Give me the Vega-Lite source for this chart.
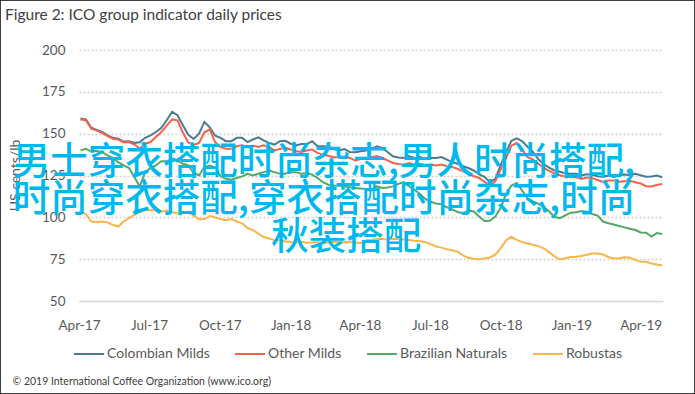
{
  "$schema": "https://vega.github.io/schema/vega-lite/v6.json",
  "width": 695,
  "height": 394,
  "autosize": {"type": "none"},
  "padding": 0,
  "background": "white",
  "config": {"view": {"stroke": "#000000", "strokeWidth": 1.5}, "font": "Lato"},
  "title": {"text": "Figure 2: ICO group indicator daily prices", "anchor": "start", "frame": "group", "offset": -23, "dx": 5, "fontSize": 15.5, "fontWeight": "normal", "color": "#404040", "font": "Lato"},
  "layer": [
    {
      "data": {"values": [
{"d":"2017-04-03","s":"Colombian Milds","v":159},{"d":"2017-04-10","s":"Colombian Milds","v":158.5},{"d":"2017-04-17","s":"Colombian Milds","v":153.5},{"d":"2017-04-24","s":"Colombian Milds","v":152.3},{"d":"2017-05-01","s":"Colombian Milds","v":151},{"d":"2017-05-08","s":"Colombian Milds","v":149},{"d":"2017-05-15","s":"Colombian Milds","v":147.5},{"d":"2017-05-22","s":"Colombian Milds","v":147},{"d":"2017-05-29","s":"Colombian Milds","v":145.3},{"d":"2017-06-05","s":"Colombian Milds","v":145.5},{"d":"2017-06-12","s":"Colombian Milds","v":144.5},{"d":"2017-06-19","s":"Colombian Milds","v":144.8},{"d":"2017-06-26","s":"Colombian Milds","v":147.5},{"d":"2017-07-03","s":"Colombian Milds","v":149},{"d":"2017-07-10","s":"Colombian Milds","v":151},{"d":"2017-07-17","s":"Colombian Milds","v":153.5},{"d":"2017-07-24","s":"Colombian Milds","v":158},{"d":"2017-07-31","s":"Colombian Milds","v":163},{"d":"2017-08-07","s":"Colombian Milds","v":161},{"d":"2017-08-14","s":"Colombian Milds","v":155},{"d":"2017-08-21","s":"Colombian Milds","v":149.3},{"d":"2017-08-28","s":"Colombian Milds","v":146.8},{"d":"2017-09-04","s":"Colombian Milds","v":150},{"d":"2017-09-11","s":"Colombian Milds","v":157},{"d":"2017-09-18","s":"Colombian Milds","v":153.8},{"d":"2017-09-25","s":"Colombian Milds","v":148.8},{"d":"2017-10-02","s":"Colombian Milds","v":147.5},{"d":"2017-10-09","s":"Colombian Milds","v":145.5},{"d":"2017-10-16","s":"Colombian Milds","v":145.5},{"d":"2017-10-23","s":"Colombian Milds","v":147.5},{"d":"2017-10-30","s":"Colombian Milds","v":147.5},{"d":"2017-11-06","s":"Colombian Milds","v":145},{"d":"2017-11-13","s":"Colombian Milds","v":146.5},{"d":"2017-11-20","s":"Colombian Milds","v":147.8},{"d":"2017-11-27","s":"Colombian Milds","v":146},{"d":"2017-12-04","s":"Colombian Milds","v":144.5},{"d":"2017-12-11","s":"Colombian Milds","v":143.5},{"d":"2017-12-18","s":"Colombian Milds","v":145.5},{"d":"2017-12-25","s":"Colombian Milds","v":145.7},{"d":"2018-01-01","s":"Colombian Milds","v":144},{"d":"2018-01-08","s":"Colombian Milds","v":143},{"d":"2018-01-15","s":"Colombian Milds","v":143.8},{"d":"2018-01-22","s":"Colombian Milds","v":143.8},{"d":"2018-01-29","s":"Colombian Milds","v":145.5},{"d":"2018-02-05","s":"Colombian Milds","v":142.5},{"d":"2018-02-12","s":"Colombian Milds","v":142.5},{"d":"2018-02-19","s":"Colombian Milds","v":142.3},{"d":"2018-02-26","s":"Colombian Milds","v":140.8},{"d":"2018-03-05","s":"Colombian Milds","v":140},{"d":"2018-03-12","s":"Colombian Milds","v":140.8},{"d":"2018-03-19","s":"Colombian Milds","v":139},{"d":"2018-03-26","s":"Colombian Milds","v":138.9},{"d":"2018-04-02","s":"Colombian Milds","v":139.5},{"d":"2018-04-09","s":"Colombian Milds","v":140},{"d":"2018-04-16","s":"Colombian Milds","v":140.9},{"d":"2018-04-23","s":"Colombian Milds","v":142.5},{"d":"2018-04-30","s":"Colombian Milds","v":141.5},{"d":"2018-05-07","s":"Colombian Milds","v":139},{"d":"2018-05-14","s":"Colombian Milds","v":136.5},{"d":"2018-05-21","s":"Colombian Milds","v":135.8},{"d":"2018-05-28","s":"Colombian Milds","v":135.5},{"d":"2018-06-04","s":"Colombian Milds","v":136.5},{"d":"2018-06-11","s":"Colombian Milds","v":135.5},{"d":"2018-06-18","s":"Colombian Milds","v":136},{"d":"2018-06-25","s":"Colombian Milds","v":135},{"d":"2018-07-02","s":"Colombian Milds","v":135.5},{"d":"2018-07-09","s":"Colombian Milds","v":135.5},{"d":"2018-07-16","s":"Colombian Milds","v":136},{"d":"2018-07-23","s":"Colombian Milds","v":134.5},{"d":"2018-07-30","s":"Colombian Milds","v":133},{"d":"2018-08-06","s":"Colombian Milds","v":132},{"d":"2018-08-13","s":"Colombian Milds","v":130.5},{"d":"2018-08-20","s":"Colombian Milds","v":129.5},{"d":"2018-08-27","s":"Colombian Milds","v":128},{"d":"2018-09-03","s":"Colombian Milds","v":125.7},{"d":"2018-09-10","s":"Colombian Milds","v":124.2},{"d":"2018-09-17","s":"Colombian Milds","v":121},{"d":"2018-09-24","s":"Colombian Milds","v":123},{"d":"2018-10-01","s":"Colombian Milds","v":131},{"d":"2018-10-08","s":"Colombian Milds","v":139},{"d":"2018-10-15","s":"Colombian Milds","v":145.7},{"d":"2018-10-22","s":"Colombian Milds","v":147.2},{"d":"2018-10-29","s":"Colombian Milds","v":145.5},{"d":"2018-11-05","s":"Colombian Milds","v":142.2},{"d":"2018-11-12","s":"Colombian Milds","v":139},{"d":"2018-11-19","s":"Colombian Milds","v":134.8},{"d":"2018-11-26","s":"Colombian Milds","v":131.7},{"d":"2018-12-03","s":"Colombian Milds","v":129.7},{"d":"2018-12-10","s":"Colombian Milds","v":128},{"d":"2018-12-17","s":"Colombian Milds","v":127.2},{"d":"2018-12-24","s":"Colombian Milds","v":126.4},{"d":"2018-12-31","s":"Colombian Milds","v":126},{"d":"2019-01-07","s":"Colombian Milds","v":126},{"d":"2019-01-14","s":"Colombian Milds","v":125},{"d":"2019-01-21","s":"Colombian Milds","v":125.8},{"d":"2019-01-28","s":"Colombian Milds","v":125.4},{"d":"2019-02-04","s":"Colombian Milds","v":124.6},{"d":"2019-02-11","s":"Colombian Milds","v":124.3},{"d":"2019-02-18","s":"Colombian Milds","v":125},{"d":"2019-02-25","s":"Colombian Milds","v":124.2},{"d":"2019-03-04","s":"Colombian Milds","v":125.3},{"d":"2019-03-11","s":"Colombian Milds","v":125.6},{"d":"2019-03-18","s":"Colombian Milds","v":125.2},{"d":"2019-03-25","s":"Colombian Milds","v":126},{"d":"2019-04-01","s":"Colombian Milds","v":125.1},{"d":"2019-04-08","s":"Colombian Milds","v":124.3},{"d":"2019-04-15","s":"Colombian Milds","v":124.4},{"d":"2019-04-22","s":"Colombian Milds","v":125},{"d":"2019-04-29","s":"Colombian Milds","v":124},
{"d":"2017-04-03","s":"Other Milds","v":158.5},{"d":"2017-04-10","s":"Other Milds","v":158},{"d":"2017-04-17","s":"Other Milds","v":153},{"d":"2017-04-24","s":"Other Milds","v":151.8},{"d":"2017-05-01","s":"Other Milds","v":150.5},{"d":"2017-05-08","s":"Other Milds","v":148.5},{"d":"2017-05-15","s":"Other Milds","v":147},{"d":"2017-05-22","s":"Other Milds","v":146.5},{"d":"2017-05-29","s":"Other Milds","v":144.8},{"d":"2017-06-05","s":"Other Milds","v":145},{"d":"2017-06-12","s":"Other Milds","v":143.5},{"d":"2017-06-19","s":"Other Milds","v":141},{"d":"2017-06-26","s":"Other Milds","v":144},{"d":"2017-07-03","s":"Other Milds","v":145},{"d":"2017-07-10","s":"Other Milds","v":148},{"d":"2017-07-17","s":"Other Milds","v":151},{"d":"2017-07-24","s":"Other Milds","v":154.8},{"d":"2017-07-31","s":"Other Milds","v":158.5},{"d":"2017-08-07","s":"Other Milds","v":158},{"d":"2017-08-14","s":"Other Milds","v":150.7},{"d":"2017-08-21","s":"Other Milds","v":144.8},{"d":"2017-08-28","s":"Other Milds","v":143.3},{"d":"2017-09-04","s":"Other Milds","v":144.5},{"d":"2017-09-11","s":"Other Milds","v":150.8},{"d":"2017-09-18","s":"Other Milds","v":152.5},{"d":"2017-09-25","s":"Other Milds","v":144.8},{"d":"2017-10-02","s":"Other Milds","v":142},{"d":"2017-10-09","s":"Other Milds","v":141},{"d":"2017-10-16","s":"Other Milds","v":141},{"d":"2017-10-23","s":"Other Milds","v":142.5},{"d":"2017-10-30","s":"Other Milds","v":143},{"d":"2017-11-06","s":"Other Milds","v":142},{"d":"2017-11-13","s":"Other Milds","v":142.8},{"d":"2017-11-20","s":"Other Milds","v":142},{"d":"2017-11-27","s":"Other Milds","v":143},{"d":"2017-12-04","s":"Other Milds","v":142},{"d":"2017-12-11","s":"Other Milds","v":140},{"d":"2017-12-18","s":"Other Milds","v":140.9},{"d":"2017-12-25","s":"Other Milds","v":141.5},{"d":"2018-01-01","s":"Other Milds","v":140.5},{"d":"2018-01-08","s":"Other Milds","v":139.5},{"d":"2018-01-15","s":"Other Milds","v":139},{"d":"2018-01-22","s":"Other Milds","v":139.9},{"d":"2018-01-29","s":"Other Milds","v":140.5},{"d":"2018-02-05","s":"Other Milds","v":138.5},{"d":"2018-02-12","s":"Other Milds","v":137.5},{"d":"2018-02-19","s":"Other Milds","v":136.8},{"d":"2018-02-26","s":"Other Milds","v":135.9},{"d":"2018-03-05","s":"Other Milds","v":135.9},{"d":"2018-03-12","s":"Other Milds","v":136},{"d":"2018-03-19","s":"Other Milds","v":135.5},{"d":"2018-03-26","s":"Other Milds","v":134},{"d":"2018-04-02","s":"Other Milds","v":134.9},{"d":"2018-04-09","s":"Other Milds","v":135},{"d":"2018-04-16","s":"Other Milds","v":135.9},{"d":"2018-04-23","s":"Other Milds","v":136.7},{"d":"2018-04-30","s":"Other Milds","v":135.5},{"d":"2018-05-07","s":"Other Milds","v":134},{"d":"2018-05-14","s":"Other Milds","v":132.5},{"d":"2018-05-21","s":"Other Milds","v":131.9},{"d":"2018-05-28","s":"Other Milds","v":131.5},{"d":"2018-06-04","s":"Other Milds","v":132.5},{"d":"2018-06-11","s":"Other Milds","v":131.5},{"d":"2018-06-18","s":"Other Milds","v":132},{"d":"2018-06-25","s":"Other Milds","v":131},{"d":"2018-07-02","s":"Other Milds","v":131.5},{"d":"2018-07-09","s":"Other Milds","v":131},{"d":"2018-07-16","s":"Other Milds","v":131.5},{"d":"2018-07-23","s":"Other Milds","v":130.5},{"d":"2018-07-30","s":"Other Milds","v":130},{"d":"2018-08-06","s":"Other Milds","v":129},{"d":"2018-08-13","s":"Other Milds","v":127.5},{"d":"2018-08-20","s":"Other Milds","v":126},{"d":"2018-08-27","s":"Other Milds","v":124.7},{"d":"2018-09-03","s":"Other Milds","v":123.5},{"d":"2018-09-10","s":"Other Milds","v":121.2},{"d":"2018-09-17","s":"Other Milds","v":119},{"d":"2018-09-24","s":"Other Milds","v":121.5},{"d":"2018-10-01","s":"Other Milds","v":128.5},{"d":"2018-10-08","s":"Other Milds","v":135.5},{"d":"2018-10-15","s":"Other Milds","v":142.8},{"d":"2018-10-22","s":"Other Milds","v":144.5},{"d":"2018-10-29","s":"Other Milds","v":140.5},{"d":"2018-11-05","s":"Other Milds","v":136},{"d":"2018-11-12","s":"Other Milds","v":134.5},{"d":"2018-11-19","s":"Other Milds","v":132},{"d":"2018-11-26","s":"Other Milds","v":129.5},{"d":"2018-12-03","s":"Other Milds","v":127.8},{"d":"2018-12-10","s":"Other Milds","v":126.2},{"d":"2018-12-17","s":"Other Milds","v":125.2},{"d":"2018-12-24","s":"Other Milds","v":124.4},{"d":"2018-12-31","s":"Other Milds","v":124},{"d":"2019-01-07","s":"Other Milds","v":124},{"d":"2019-01-14","s":"Other Milds","v":123},{"d":"2019-01-21","s":"Other Milds","v":123.8},{"d":"2019-01-28","s":"Other Milds","v":123.4},{"d":"2019-02-04","s":"Other Milds","v":122.3},{"d":"2019-02-11","s":"Other Milds","v":121.2},{"d":"2019-02-18","s":"Other Milds","v":122},{"d":"2019-02-25","s":"Other Milds","v":122},{"d":"2019-03-04","s":"Other Milds","v":121.3},{"d":"2019-03-11","s":"Other Milds","v":121.6},{"d":"2019-03-18","s":"Other Milds","v":121.8},{"d":"2019-03-25","s":"Other Milds","v":121},{"d":"2019-04-01","s":"Other Milds","v":120.2},{"d":"2019-04-08","s":"Other Milds","v":118.6},{"d":"2019-04-15","s":"Other Milds","v":118.5},{"d":"2019-04-22","s":"Other Milds","v":119.3},{"d":"2019-04-29","s":"Other Milds","v":120},
{"d":"2017-04-03","s":"Brazilian Naturals","v":140},{"d":"2017-04-10","s":"Brazilian Naturals","v":141},{"d":"2017-04-17","s":"Brazilian Naturals","v":139.2},{"d":"2017-04-24","s":"Brazilian Naturals","v":139.8},{"d":"2017-05-01","s":"Brazilian Naturals","v":139},{"d":"2017-05-08","s":"Brazilian Naturals","v":137},{"d":"2017-05-15","s":"Brazilian Naturals","v":135.5},{"d":"2017-05-22","s":"Brazilian Naturals","v":133},{"d":"2017-05-29","s":"Brazilian Naturals","v":131},{"d":"2017-06-05","s":"Brazilian Naturals","v":129.5},{"d":"2017-06-12","s":"Brazilian Naturals","v":124},{"d":"2017-06-19","s":"Brazilian Naturals","v":118.5},{"d":"2017-06-26","s":"Brazilian Naturals","v":127},{"d":"2017-07-03","s":"Brazilian Naturals","v":129.5},{"d":"2017-07-10","s":"Brazilian Naturals","v":131},{"d":"2017-07-17","s":"Brazilian Naturals","v":133.5},{"d":"2017-07-24","s":"Brazilian Naturals","v":133.5},{"d":"2017-07-31","s":"Brazilian Naturals","v":134.8},{"d":"2017-08-07","s":"Brazilian Naturals","v":134},{"d":"2017-08-14","s":"Brazilian Naturals","v":132},{"d":"2017-08-21","s":"Brazilian Naturals","v":131},{"d":"2017-08-28","s":"Brazilian Naturals","v":126.5},{"d":"2017-09-04","s":"Brazilian Naturals","v":125},{"d":"2017-09-11","s":"Brazilian Naturals","v":130.2},{"d":"2017-09-18","s":"Brazilian Naturals","v":131},{"d":"2017-09-25","s":"Brazilian Naturals","v":129.8},{"d":"2017-10-02","s":"Brazilian Naturals","v":124.5},{"d":"2017-10-09","s":"Brazilian Naturals","v":123},{"d":"2017-10-16","s":"Brazilian Naturals","v":122.5},{"d":"2017-10-23","s":"Brazilian Naturals","v":123.5},{"d":"2017-10-30","s":"Brazilian Naturals","v":124.5},{"d":"2017-11-06","s":"Brazilian Naturals","v":126},{"d":"2017-11-13","s":"Brazilian Naturals","v":125},{"d":"2017-11-20","s":"Brazilian Naturals","v":126},{"d":"2017-11-27","s":"Brazilian Naturals","v":127},{"d":"2017-12-04","s":"Brazilian Naturals","v":128},{"d":"2017-12-11","s":"Brazilian Naturals","v":127},{"d":"2017-12-18","s":"Brazilian Naturals","v":126},{"d":"2017-12-25","s":"Brazilian Naturals","v":126},{"d":"2018-01-01","s":"Brazilian Naturals","v":127},{"d":"2018-01-08","s":"Brazilian Naturals","v":127},{"d":"2018-01-15","s":"Brazilian Naturals","v":126},{"d":"2018-01-22","s":"Brazilian Naturals","v":126.5},{"d":"2018-01-29","s":"Brazilian Naturals","v":125.5},{"d":"2018-02-05","s":"Brazilian Naturals","v":123.5},{"d":"2018-02-12","s":"Brazilian Naturals","v":121},{"d":"2018-02-19","s":"Brazilian Naturals","v":119.5},{"d":"2018-02-26","s":"Brazilian Naturals","v":119},{"d":"2018-03-05","s":"Brazilian Naturals","v":118.8},{"d":"2018-03-12","s":"Brazilian Naturals","v":118.5},{"d":"2018-03-19","s":"Brazilian Naturals","v":118},{"d":"2018-03-26","s":"Brazilian Naturals","v":117.5},{"d":"2018-04-02","s":"Brazilian Naturals","v":117.3},{"d":"2018-04-09","s":"Brazilian Naturals","v":117},{"d":"2018-04-16","s":"Brazilian Naturals","v":116},{"d":"2018-04-23","s":"Brazilian Naturals","v":118.5},{"d":"2018-04-30","s":"Brazilian Naturals","v":117.5},{"d":"2018-05-07","s":"Brazilian Naturals","v":117.8},{"d":"2018-05-14","s":"Brazilian Naturals","v":118.5},{"d":"2018-05-21","s":"Brazilian Naturals","v":120},{"d":"2018-05-28","s":"Brazilian Naturals","v":121},{"d":"2018-06-04","s":"Brazilian Naturals","v":118.5},{"d":"2018-06-11","s":"Brazilian Naturals","v":116.5},{"d":"2018-06-18","s":"Brazilian Naturals","v":114},{"d":"2018-06-25","s":"Brazilian Naturals","v":111},{"d":"2018-07-02","s":"Brazilian Naturals","v":109.3},{"d":"2018-07-09","s":"Brazilian Naturals","v":108.3},{"d":"2018-07-16","s":"Brazilian Naturals","v":107.8},{"d":"2018-07-23","s":"Brazilian Naturals","v":106},{"d":"2018-07-30","s":"Brazilian Naturals","v":104.8},{"d":"2018-08-06","s":"Brazilian Naturals","v":103.2},{"d":"2018-08-13","s":"Brazilian Naturals","v":102.3},{"d":"2018-08-20","s":"Brazilian Naturals","v":104},{"d":"2018-08-27","s":"Brazilian Naturals","v":103.5},{"d":"2018-09-03","s":"Brazilian Naturals","v":100.5},{"d":"2018-09-10","s":"Brazilian Naturals","v":97.8},{"d":"2018-09-17","s":"Brazilian Naturals","v":98},{"d":"2018-09-24","s":"Brazilian Naturals","v":100.5},{"d":"2018-10-01","s":"Brazilian Naturals","v":105.5},{"d":"2018-10-08","s":"Brazilian Naturals","v":114},{"d":"2018-10-15","s":"Brazilian Naturals","v":119},{"d":"2018-10-22","s":"Brazilian Naturals","v":120.5},{"d":"2018-10-29","s":"Brazilian Naturals","v":116},{"d":"2018-11-05","s":"Brazilian Naturals","v":111.2},{"d":"2018-11-12","s":"Brazilian Naturals","v":109.5},{"d":"2018-11-19","s":"Brazilian Naturals","v":108},{"d":"2018-11-26","s":"Brazilian Naturals","v":106.3},{"d":"2018-12-03","s":"Brazilian Naturals","v":103.5},{"d":"2018-12-10","s":"Brazilian Naturals","v":100.2},{"d":"2018-12-17","s":"Brazilian Naturals","v":99.5},{"d":"2018-12-24","s":"Brazilian Naturals","v":101.2},{"d":"2018-12-31","s":"Brazilian Naturals","v":102.8},{"d":"2019-01-07","s":"Brazilian Naturals","v":103},{"d":"2019-01-14","s":"Brazilian Naturals","v":103.8},{"d":"2019-01-21","s":"Brazilian Naturals","v":103.3},{"d":"2019-01-28","s":"Brazilian Naturals","v":102},{"d":"2019-02-04","s":"Brazilian Naturals","v":101},{"d":"2019-02-11","s":"Brazilian Naturals","v":97.5},{"d":"2019-02-18","s":"Brazilian Naturals","v":96.5},{"d":"2019-02-25","s":"Brazilian Naturals","v":95.7},{"d":"2019-03-04","s":"Brazilian Naturals","v":94.8},{"d":"2019-03-11","s":"Brazilian Naturals","v":94},{"d":"2019-03-18","s":"Brazilian Naturals","v":93.2},{"d":"2019-03-25","s":"Brazilian Naturals","v":92.4},{"d":"2019-04-01","s":"Brazilian Naturals","v":91},{"d":"2019-04-08","s":"Brazilian Naturals","v":90.8},{"d":"2019-04-15","s":"Brazilian Naturals","v":88.5},{"d":"2019-04-22","s":"Brazilian Naturals","v":90.6},{"d":"2019-04-29","s":"Brazilian Naturals","v":90},
{"d":"2017-04-03","s":"Robustas","v":103.5},{"d":"2017-04-10","s":"Robustas","v":102},{"d":"2017-04-17","s":"Robustas","v":97.5},{"d":"2017-04-24","s":"Robustas","v":97},{"d":"2017-05-01","s":"Robustas","v":97.5},{"d":"2017-05-08","s":"Robustas","v":97},{"d":"2017-05-15","s":"Robustas","v":95.5},{"d":"2017-05-22","s":"Robustas","v":94.5},{"d":"2017-05-29","s":"Robustas","v":97.5},{"d":"2017-06-05","s":"Robustas","v":99.5},{"d":"2017-06-12","s":"Robustas","v":101.5},{"d":"2017-06-19","s":"Robustas","v":103.2},{"d":"2017-06-26","s":"Robustas","v":104.5},{"d":"2017-07-03","s":"Robustas","v":104.3},{"d":"2017-07-10","s":"Robustas","v":104.2},{"d":"2017-07-17","s":"Robustas","v":103.3},{"d":"2017-07-24","s":"Robustas","v":104.2},{"d":"2017-07-31","s":"Robustas","v":103.1},{"d":"2017-08-07","s":"Robustas","v":102.3},{"d":"2017-08-14","s":"Robustas","v":103.2},{"d":"2017-08-21","s":"Robustas","v":102.9},{"d":"2017-08-28","s":"Robustas","v":101},{"d":"2017-09-04","s":"Robustas","v":98.8},{"d":"2017-09-11","s":"Robustas","v":99},{"d":"2017-09-18","s":"Robustas","v":100.8},{"d":"2017-09-25","s":"Robustas","v":100},{"d":"2017-10-02","s":"Robustas","v":98.8},{"d":"2017-10-09","s":"Robustas","v":98.3},{"d":"2017-10-16","s":"Robustas","v":99},{"d":"2017-10-23","s":"Robustas","v":97.6},{"d":"2017-10-30","s":"Robustas","v":96.4},{"d":"2017-11-06","s":"Robustas","v":93.6},{"d":"2017-11-13","s":"Robustas","v":92.4},{"d":"2017-11-20","s":"Robustas","v":90.3},{"d":"2017-11-27","s":"Robustas","v":88.2},{"d":"2017-12-04","s":"Robustas","v":87.4},{"d":"2017-12-11","s":"Robustas","v":86.3},{"d":"2017-12-18","s":"Robustas","v":86.3},{"d":"2017-12-25","s":"Robustas","v":85.6},{"d":"2018-01-01","s":"Robustas","v":85.2},{"d":"2018-01-08","s":"Robustas","v":85},{"d":"2018-01-15","s":"Robustas","v":85.4},{"d":"2018-01-22","s":"Robustas","v":84.8},{"d":"2018-01-29","s":"Robustas","v":85},{"d":"2018-02-05","s":"Robustas","v":85.3},{"d":"2018-02-12","s":"Robustas","v":84.5},{"d":"2018-02-19","s":"Robustas","v":85},{"d":"2018-02-26","s":"Robustas","v":85.4},{"d":"2018-03-05","s":"Robustas","v":85.2},{"d":"2018-03-12","s":"Robustas","v":85.1},{"d":"2018-03-19","s":"Robustas","v":85.3},{"d":"2018-03-26","s":"Robustas","v":85},{"d":"2018-04-02","s":"Robustas","v":84.6},{"d":"2018-04-09","s":"Robustas","v":86.3},{"d":"2018-04-16","s":"Robustas","v":86.5},{"d":"2018-04-23","s":"Robustas","v":87},{"d":"2018-04-30","s":"Robustas","v":87},{"d":"2018-05-07","s":"Robustas","v":86.8},{"d":"2018-05-14","s":"Robustas","v":87.2},{"d":"2018-05-21","s":"Robustas","v":87},{"d":"2018-05-28","s":"Robustas","v":86.8},{"d":"2018-06-04","s":"Robustas","v":86.5},{"d":"2018-06-11","s":"Robustas","v":86},{"d":"2018-06-18","s":"Robustas","v":85.7},{"d":"2018-06-25","s":"Robustas","v":85.2},{"d":"2018-07-02","s":"Robustas","v":84},{"d":"2018-07-09","s":"Robustas","v":82.6},{"d":"2018-07-16","s":"Robustas","v":81.9},{"d":"2018-07-23","s":"Robustas","v":81},{"d":"2018-07-30","s":"Robustas","v":80.3},{"d":"2018-08-06","s":"Robustas","v":79.5},{"d":"2018-08-13","s":"Robustas","v":77.2},{"d":"2018-08-20","s":"Robustas","v":75.8},{"d":"2018-08-27","s":"Robustas","v":75.2},{"d":"2018-09-03","s":"Robustas","v":75},{"d":"2018-09-10","s":"Robustas","v":75.4},{"d":"2018-09-17","s":"Robustas","v":76},{"d":"2018-09-24","s":"Robustas","v":77.7},{"d":"2018-10-01","s":"Robustas","v":81.5},{"d":"2018-10-08","s":"Robustas","v":86.3},{"d":"2018-10-15","s":"Robustas","v":88.3},{"d":"2018-10-22","s":"Robustas","v":86.5},{"d":"2018-10-29","s":"Robustas","v":85.2},{"d":"2018-11-05","s":"Robustas","v":84.4},{"d":"2018-11-12","s":"Robustas","v":83.6},{"d":"2018-11-19","s":"Robustas","v":82.8},{"d":"2018-11-26","s":"Robustas","v":81.5},{"d":"2018-12-03","s":"Robustas","v":79.2},{"d":"2018-12-10","s":"Robustas","v":76.6},{"d":"2018-12-17","s":"Robustas","v":74.8},{"d":"2018-12-24","s":"Robustas","v":75.5},{"d":"2018-12-31","s":"Robustas","v":76.3},{"d":"2019-01-07","s":"Robustas","v":76.4},{"d":"2019-01-14","s":"Robustas","v":76.9},{"d":"2019-01-21","s":"Robustas","v":77.6},{"d":"2019-01-28","s":"Robustas","v":78.4},{"d":"2019-02-04","s":"Robustas","v":78.4},{"d":"2019-02-11","s":"Robustas","v":77.8},{"d":"2019-02-18","s":"Robustas","v":76.3},{"d":"2019-02-25","s":"Robustas","v":75.4},{"d":"2019-03-04","s":"Robustas","v":75.6},{"d":"2019-03-11","s":"Robustas","v":76.2},{"d":"2019-03-18","s":"Robustas","v":75.8},{"d":"2019-03-25","s":"Robustas","v":74.6},{"d":"2019-04-01","s":"Robustas","v":73.4},{"d":"2019-04-08","s":"Robustas","v":73.4},{"d":"2019-04-15","s":"Robustas","v":72.4},{"d":"2019-04-22","s":"Robustas","v":71.8},{"d":"2019-04-29","s":"Robustas","v":71.2}
      ]},
      "mark": {"type": "line", "strokeWidth": 2, "clip": false},
      "encoding": {
        "x": {
          "field": "d", "type": "temporal",
          "scale": {"type": "utc", "domain": [{"year": 2017, "month": 4, "date": 1, "utc": true}, {"year": 2019, "month": 4, "date": 30, "utc": true}], "range": [79, 663]},
          "axis": {
            "orient": "bottom", "offset": -93,
            "values": [{"year": 2017, "month": 4, "date": 1, "utc": true}, {"year": 2017, "month": 7, "date": 1, "utc": true}, {"year": 2017, "month": 10, "date": 1, "utc": true}, {"year": 2018, "month": 1, "date": 1, "utc": true}, {"year": 2018, "month": 4, "date": 1, "utc": true}, {"year": 2018, "month": 7, "date": 1, "utc": true}, {"year": 2018, "month": 10, "date": 1, "utc": true}, {"year": 2019, "month": 1, "date": 1, "utc": true}, {"year": 2019, "month": 4, "date": 1, "utc": true}],
            "format": "%b-%y", "labelFlush": false, "labelOverlap": false,
            "ticks": false, "tickSize": 0, "labelPadding": 17, "grid": false,
            "domain": true, "domainColor": "#d9d9d9", "domainWidth": 1.5,
            "labelFont": "Lato", "labelFontSize": 13.5, "labelColor": "#595959",
            "title": "© 2019 International Coffee Organization (www.ico.org)",
            "titleX": 12, "titleY": 80, "titleAlign": "left", "titleAnchor": "start", "titleBaseline": "middle",
            "titleFont": "Lato", "titleFontSize": 10.5, "titleFontWeight": "normal", "titleColor": "#404040"
          }
        },
        "y": {
          "field": "v", "type": "quantitative",
          "scale": {"domain": [50, 200], "range": [301, 50], "zero": false, "nice": false},
          "axis": {
            "orient": "left", "offset": -79,
            "values": [50, 75, 100, 125, 150, 175, 200],
            "domain": false, "ticks": false, "tickSize": 0, "labelPadding": 14,
            "labelFont": "Lato", "labelFontSize": 13.5, "labelColor": "#595959",
            "grid": true, "gridColor": "#d0d0d0", "gridDash": [2, 2], "gridWidth": 1.5,
            "title": "US cents/lb", "titleX": -64, "titleY": 175, "titleAngle": -90,
            "titleAlign": "center", "titleBaseline": "middle",
            "titleFont": "Lato", "titleFontSize": 14, "titleFontWeight": "normal", "titleColor": "#595959"
          }
        },
        "color": {
          "field": "s", "type": "nominal",
          "scale": {"domain": ["Colombian Milds", "Other Milds", "Brazilian Naturals", "Robustas"], "range": ["#4d7a91", "#f2624c", "#55a862", "#fbb446"]},
          "legend": {
            "orient": "none", "legendX": 73, "legendY": 338, "direction": "horizontal", "title": null,
            "symbolType": "stroke", "symbolSize": 900, "symbolStrokeWidth": 2,
            "labelFont": "Lato", "labelFontSize": 14, "labelColor": "#595959",
            "labelOffset": 2, "columnPadding": 21, "padding": 0
          }
        }
      }
    },
    {
      "data": {"values": [
        {"t": "男士穿衣搭配时尚杂志,男人时尚搭配,", "d": "2017-01-05", "v": 132.5},
        {"t": "时尚穿衣搭配,穿衣搭配时尚杂志,时尚", "d": "2017-01-05", "v": 110.4},
        {"t": "秋装搭配", "d": "2017-12-07", "v": 87.6}
      ]},
      "mark": {"type": "text", "align": "left", "baseline": "middle", "font": "Noto Sans CJK SC", "fontSize": 37.5, "fontWeight": 500, "color": "#00b8f0", "clip": false},
      "encoding": {
        "x": {"field": "d", "type": "temporal"},
        "y": {"field": "v", "type": "quantitative"},
        "text": {"field": "t"}
      }
    }
  ]
}
